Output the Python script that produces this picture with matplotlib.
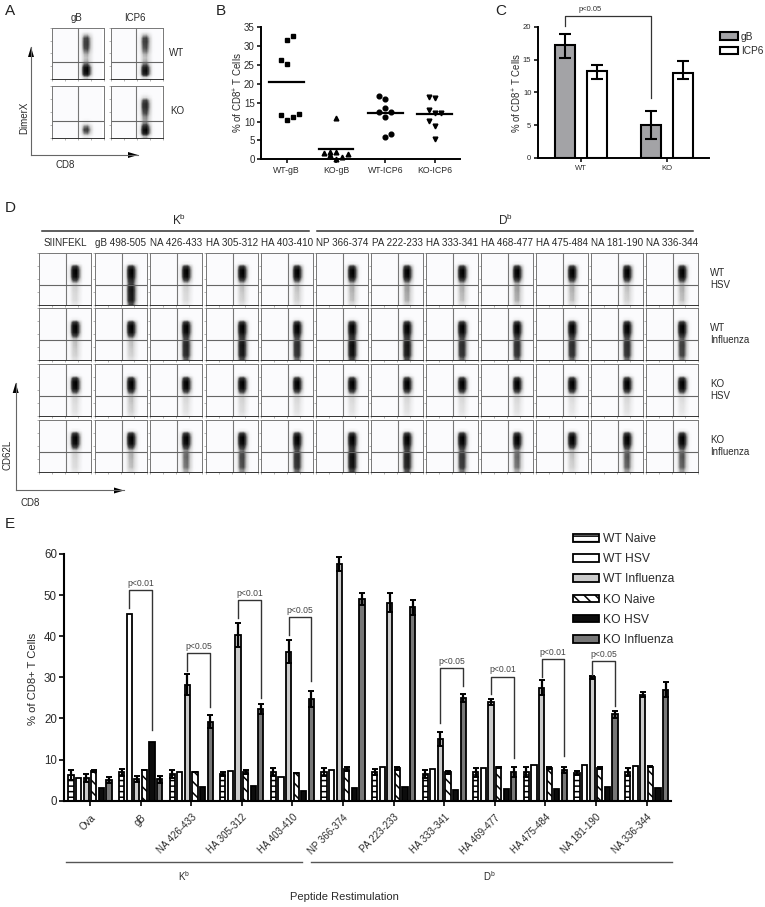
import matplotlib
matplotlib.use('Agg')
import matplotlib.pyplot as plt
import numpy as np
from matplotlib.colors import LinearSegmentedColormap

plt.rcParams['font.family'] = ['Liberation Sans', 'DejaVu Sans']
plt.rcParams['mathtext.default'] = 'regular'
plt.rcParams['hatch.linewidth'] = 1.1

W, H = 765, 907

#Panel A density along y of each plot (bottom to top, 16 bins)
a_titles = ['gB', 'ICP6']
a_rows = ['WT', 'KO']
a_density = [
    [[.25, .9, 1, .95, .55, .3, .25, .3, .45, .6, .65, .65, .6, .3, .03, 0],
     [.2, .85, .95, .85, .5, .3, .25, .3, .45, .55, .6, .65, .6, .3, .03, 0]],
    [[.1, .45, .65, .45, .1, .02, 0, 0, 0, 0, 0, 0, 0, 0, 0, 0],
     [.3, .9, 1, .8, .45, .35, .4, .55, .65, .75, .75, .6, .15, .02, 0, 0]],
]

#Panel B
b_groups = ['WT-gB', 'KO-gB', 'WT-ICP6', 'KO-ICP6']
b_means = [20.4, 2.8, 12.2, 12.0]
b_values = [
    [32.7, 31.5, 26.2, 25.2, 11.7, 10.3, 11.1, 11.9],
    [11.0, 1.6, 2.0, 1.2, 2.0, 0.0, 0.7, 1.3],
    [16.7, 15.9, 13.7, 12.6, 12.6, 11.2, 6.0, 6.6],
    [16.6, 16.3, 13.0, 12.3, 12.4, 10.2, 8.9, 5.3],
]
b_offsets = [
    [.12, 0, -.12, 0, -.12, 0, .12, .24],
    [0, -.24, -.12, -.12, 0, 0, .12, .24],
    [-.12, 0, 0, -.12, .12, 0, 0, .12],
    [-.12, 0, -.12, 0, .12, -.12, 0, 0],
]
b_markers = ['s', '^', 'o', 'v']

#Panel C
c_groups = ['WT', 'KO']
c_gb = [17.2, 5.1]
c_gb_low = [1.9, 2.2]
c_gb_high = [1.7, 2.1]
c_icp6 = [13.2, 13.0]
c_icp6_low = [1.1, 1.0]
c_icp6_high = [1.0, 1.7]

#Panel D
d_peptides = ['SIINFEKL', 'gB 498-505', 'NA 426-433', 'HA 305-312', 'HA 403-410', 'NP 366-374',
              'PA 222-233', 'HA 333-341', 'HA 468-477', 'HA 475-484', 'NA 181-190', 'NA 336-344']
d_rows = ['WT\nHSV', 'WT\nInfluenza', 'KO\nHSV', 'KO\nInfluenza']
#how dark the population under the horizontal gate is in each plot
d_lower = [
    [.15, .85, .15, .2, .2, .25, .3, .25, .3, .25, .2, .25],
    [.2, .2, .75, .85, .7, .9, .85, .7, .7, .7, .7, .6],
    [.12, .2, .12, .15, .12, .12, .12, .12, .12, .1, .12, .1],
    [.15, .25, .45, .55, .7, .9, .8, .65, .45, .2, .5, .5],
]
#shapes of the clouds (16 bins across the plot)
cloud_x = [0, 0, 0, 0, 0, 0, 0, 0, 0, .12, .9, 1, .4, .02, 0, 0]
upper_y = [.01, .01, .02, .03, .05, .08, .15, .6, .95, 1, 1, .75, .06, 0, 0, 0]
lower_y = [.7, 1, 1, 1, 1, .9, .6, .2, 0, 0, 0, 0, 0, 0, 0, 0]

#Panel E
e_peptides = ['Ova', 'gB', 'NA 426-433', 'HA 305-312', 'HA 403-410', 'NP 366-374',
              'PA 223-233', 'HA 333-341', 'HA 469-477', 'HA 475-484', 'NA 181-190', 'NA 336-344']
wt_naive = [6.3, 6.9, 6.5, 6.5, 7.0, 7.0, 7.0, 6.5, 6.9, 7.0, 6.7, 7.0]
wt_naive_err = [1.2, .8, 1.0, .5, .9, 1.0, .7, 1.0, 1.1, 1.2, .5, 1.0]
wt_hsv = [5.5, 45.5, 7.0, 7.3, 5.8, 7.5, 8.1, 7.8, 8.0, 8.7, 8.6, 8.4]
wt_flu = [5.6, 5.2, 28.2, 40.2, 36.2, 57.5, 48.2, 15.0, 24.0, 27.5, 30.0, 25.8]
wt_flu_err = [1.0, .7, 2.5, 2.9, 2.8, 1.7, 2.3, 1.8, .7, 1.9, .4, .6]
ko_naive = [7.2, 7.5, 7.0, 7.0, 6.7, 7.7, 7.9, 6.9, 8.1, 8.0, 8.0, 8.3]
ko_naive_err = [.2, 0, 0, .4, 0, .5, .4, .4, .2, .2, .3, .2]
ko_hsv = [3.0, 14.2, 3.3, 3.5, 2.4, 3.0, 3.3, 2.6, 2.8, 2.8, 3.3, 3.0]
ko_flu = [5.0, 5.2, 19.2, 22.2, 24.8, 49.0, 47.0, 25.0, 7.0, 7.5, 21.0, 27.0]
ko_flu_err = [.7, .8, 1.6, 1.2, 2.0, 1.5, 1.9, 1.0, 1.3, .8, .8, 1.9]

#brackets: group, left bar, right bar, top, left end, right end, text
e_brackets = [
    (1, 1, 4, 51.3, 46.8, 17.2, 'p<0.01'),
    (2, 2, 5, 36.0, 31.6, 22.9, 'p<0.05'),
    (3, 2, 5, 48.7, 44.4, 24.9, 'p<0.01'),
    (4, 2, 5, 44.6, 40.3, 29.0, 'p<0.05'),
    (7, 2, 5, 32.3, 19.0, 27.9, 'p<0.05'),
    (8, 2, 5, 30.2, 26.0, 10.5, 'p<0.01'),
    (9, 2, 5, 34.4, 30.2, 10.9, 'p<0.01'),
    (10, 2, 5, 34.0, 30.6, 23.0, 'p<0.05'),
]

fig = plt.figure(figsize=(W/100, H/100), dpi=100, facecolor='white')
flow_cmap = LinearSegmentedColormap.from_list(
    'flow', [(0, '#fbfbfd'), (.2, '#d4d4d4'), (.55, '#4a4a4a'), (1, '#000000')])


#Axes from pixel box of the picture
def px_axes(x0, y0, x1, y1):
    return fig.add_axes([x0/W, 1-y1/H, (x1-x0)/W, (y1-y0)/H])


def px_text(x, y, s, **kw):
    kw.setdefault('ha', 'center')
    kw.setdefault('va', 'center')
    kw.setdefault('color', '#2a2a2a')
    fig.text(x/W, 1-y/H, s, **kw)


def px_line(x0, y0, x1, y1, color='#333333', lw=1.0):
    fig.add_artist(plt.Line2D([x0/W, x1/W], [1-y0/H, 1-y1/H], color=color, lw=lw))


def px_arrow(x0, y0, x1, y1):
    px_line(x0, y0, x1, y1, color='#666666', lw=.8)
    #black head on the grey line
    dx, dy = (x1-x0, y1-y0)
    n = np.hypot(dx, dy)
    ux, uy = dx/n, dy/n
    fig.add_artist(plt.Polygon(
        [[x1/W, 1-y1/H],
         [(x1-10*ux+3*uy)/W, 1-(y1-10*uy-3*ux)/H],
         [(x1-10*ux-3*uy)/W, 1-(y1-10*uy+3*ux)/H]],
        transform=fig.transFigure, color='black', lw=0))


#One flow plot: density grid plus the two gates
def flow_plot(x0, y0, size, density, gate_x, gate_y, shift=0.0):
    ax = px_axes(x0, y0, x0+size, y0+size)
    grid = np.outer(density, cloud_x)
    ax.imshow(np.clip(grid, 0, 1), origin='lower', extent=(shift, 1+shift, 0, 1), aspect='auto',
              cmap=flow_cmap, vmin=0, vmax=1, interpolation='bilinear')
    ax.set_xlim(0, 1)
    ax.set_ylim(0, 1)
    ax.axvline(gate_x, color='#777777', lw=.8)
    ax.axhline(gate_y, color='#666666', lw=.8)
    ax.set_xticks([0, .25, .5, .75, 1])
    ax.set_yticks([0, .25, .5, .75, 1])
    ax.set_xticklabels([])
    ax.set_yticklabels([])
    ax.tick_params(length=1.5, width=.4, color='#777777')
    for s in ax.spines.values():
        s.set_color('#777777')
        s.set_linewidth(.7)
    ax.spines['bottom'].set_color('#333333')
    return ax


def style_axes(ax, lw=1.5):
    ax.spines['top'].set_visible(False)
    ax.spines['right'].set_visible(False)
    ax.spines['left'].set_linewidth(lw)
    ax.spines['bottom'].set_linewidth(lw)
    ax.patch.set_alpha(0)


#Panel letters
for letter, x, y in [('A', 10, 11), ('B', 221, 11), ('C', 501, 11), ('D', 10, 208), ('E', 10, 524)]:
    px_text(x, y, letter, fontsize=11, color='#222222')

#A
a_left = [52.3, 111]
a_top = [27.7, 86.3]
for r in range(2):
    for c in range(2):
        flow_plot(a_left[c], a_top[r], 51.5, np.array(a_density[r][c]), .49, .335, shift=-.03)
for c in range(2):
    px_text(a_left[c]+24, 18, a_titles[c], fontsize=7)
for r in range(2):
    px_text(177, a_top[r]+25, a_rows[r], fontsize=7)
px_arrow(31, 155, 31, 47)
px_arrow(31, 155, 138, 155)
px_text(24, 118, 'DimerX', rotation=90, fontsize=7)
px_text(65, 165, 'CD8', fontsize=7)

#B
ax = px_axes(261, 27.3, 460, 159.3)
for i in range(4):
    xs = [i+o for o in b_offsets[i]]
    ax.plot(xs, b_values[i], ls='none', marker=b_markers[i], ms=3.4, color='black', clip_on=False, zorder=3)
    ax.plot([i-.35, i+.35], [b_means[i], b_means[i]], color='black', lw=1.6)
ax.set_xlim((261-286.7)/49.3, (460-286.7)/49.3)
ax.set_ylim(0, 35)
ax.set_yticks(range(0, 36, 5))
ax.set_xticks(range(4))
ax.set_xticklabels(b_groups)
ax.tick_params(axis='x', labelsize=6.3, width=1.1, length=3, pad=2, labelcolor='#2a2a2a')
ax.tick_params(axis='y', labelsize=7, width=1.1, length=3, pad=1.5, labelcolor='#2a2a2a')
style_axes(ax, 1.4)
px_text(238, 93, '% of CD8$^{+}$ T Cells', rotation=90, fontsize=7)

#C
ax = px_axes(538.3, 26.7, 709, 158)
x = np.arange(2)
gb_bars = ax.bar(x-.186, c_gb, .233, color='#a3a3a6', edgecolor='black', lw=1.5, label='gB',
                 yerr=[c_gb_low, c_gb_high], error_kw=dict(ecolor='black', lw=1.5, capsize=4.2, capthick=1.5))
icp6_bars = ax.bar(x+.186, c_icp6, .233, color='white', edgecolor='black', lw=1.5, label='ICP6',
                   yerr=[c_icp6_low, c_icp6_high], error_kw=dict(ecolor='black', lw=1.5, capsize=4.2, capthick=1.5))
ax.set_xlim((538.3-580.7)/86, (709-580.7)/86)
ax.set_ylim(0, 20)
ax.set_yticks(range(0, 21, 5))
ax.set_xticks(x)
ax.set_xticklabels(c_groups)
ax.tick_params(axis='both', labelsize=5.5, width=1.1, length=3, pad=2, labelcolor='#2a2a2a')
style_axes(ax, 1.4)
ax.plot([-.186, -.186, 1-.186, 1-.186], [20.1, 21.7, 21.7, 9.1], color='#333333', lw=.9, clip_on=False)
ax.text(.11, 22.1, 'p<0.05', ha='center', va='bottom', fontsize=5.5, color='#333333')
px_text(517, 93, '% of CD8$^{+}$ T Cells', rotation=90, fontsize=6.9)
fig.legend(handles=[gb_bars, icp6_bars], loc='upper left', bbox_to_anchor=(719.5/W, 1-31.5/H), frameon=False,
           fontsize=7.3, handlelength=1.85, handleheight=.75, handletextpad=.25, labelspacing=.42, borderpad=0,
           borderaxespad=0, labelcolor='#2a2a2a')

#D
d_left = [39.3, 94.7, 150.3, 205.7, 261, 315.7, 371, 426.3, 481, 536, 590.7, 645.7]
d_top = [252.7, 308.3, 364, 420]
upper = np.array(upper_y)
lower = np.array(lower_y)
for r in range(4):
    for c in range(12):
        flow_plot(d_left[c], d_top[r], 52, upper+d_lower[r][c]*lower, .52, .387)
for c in range(12):
    px_text(d_left[c]+26, 242.7, d_peptides[c], fontsize=7.1)
for r in range(4):
    px_text(710, d_top[r]+26, d_rows[r], fontsize=7, ha='left', linespacing=1.25)
px_line(41.7, 231, 309, 231, lw=1.1)
px_line(317, 231, 693, 231, lw=1.1)
px_text(179, 220, 'K$^{b}$', fontsize=8.5)
px_text(505, 220, 'D$^{b}$', fontsize=8.5)
px_arrow(15.7, 490.5, 15.7, 383)
px_arrow(15.7, 490.5, 124, 490.5)
px_text(8, 455, 'CD62L', rotation=90, fontsize=7)
px_text(30, 503, 'CD8', fontsize=7)

#E
ax = px_axes(64, 554, 671, 800.7)
x = np.arange(12)
offset = .15
bar_w = .105
bar_kw = dict(edgecolor='black', lw=1.3)
err_kw = dict(ecolor='black', lw=1.6, capsize=2, capthick=1.4)
b1 = ax.bar(x-2.5*offset, wt_naive, bar_w, color='white', hatch='---', yerr=wt_naive_err, error_kw=err_kw,
            label='WT Naive', **bar_kw)
b2 = ax.bar(x-1.5*offset, wt_hsv, bar_w, color='white', label='WT HSV', **bar_kw)
b3 = ax.bar(x-.5*offset, wt_flu, bar_w, color='#cbcbcb', yerr=wt_flu_err, error_kw=err_kw,
            label='WT Influenza', **bar_kw)
b4 = ax.bar(x+.5*offset, ko_naive, bar_w, color='white', hatch='\\\\\\', yerr=ko_naive_err, error_kw=err_kw,
            label='KO Naive', **bar_kw)
b5 = ax.bar(x+1.5*offset, ko_hsv, bar_w, color='#0c0c0c', label='KO HSV', **bar_kw)
b6 = ax.bar(x+2.5*offset, ko_flu, bar_w, color='#777777', yerr=ko_flu_err, error_kw=err_kw,
            label='KO Influenza', **bar_kw)
ax.set_xlim((64-90)/50.6, (671-90)/50.6)
ax.set_ylim(0, 60)
ax.set_yticks(range(0, 61, 10))
ax.set_xticks(x)
ax.set_xticklabels(e_peptides, rotation=45, ha='right', rotation_mode='anchor', fontsize=7, color='#2a2a2a')
ax.tick_params(axis='y', labelsize=8.3, width=1.2, length=3.6, pad=1.5, labelcolor='#2a2a2a')
ax.tick_params(axis='x', width=1.2, length=3.5, pad=5)
style_axes(ax, 1.5)
for g, left, right, top, l_end, r_end, label in e_brackets:
    xl = g+(left-2.5)*offset
    xr = g+(right-2.5)*offset
    ax.plot([xl, xl, xr, xr], [l_end, top, top, r_end], color='#333333', lw=1.0, zorder=4)
    ax.text((xl+xr)/2, top+.5, label, ha='center', va='bottom', fontsize=6.2, color='#444444')
px_text(33, 679, '% of CD8+ T Cells', rotation=90, fontsize=8.1)
fig.legend(handles=[b1, b2, b3, b4, b5, b6], loc='upper left', bbox_to_anchor=(573/W, 1-533/H), frameon=False,
           fontsize=8.7, handlelength=2.15, handleheight=.6, handletextpad=.35, labelspacing=.68, borderpad=0,
           borderaxespad=0, labelcolor='#2a2a2a')
px_line(66, 861.5, 302, 861.5, color='#555555', lw=1.0)
px_line(311, 861.5, 672, 861.5, color='#555555', lw=1.0)
px_text(184, 876, 'K$^{b}$', fontsize=7)
px_text(489, 876, 'D$^{b}$', fontsize=7)
px_text(344, 897, 'Peptide Restimulation', fontsize=8)

fig.savefig('out.png', dpi=100)
